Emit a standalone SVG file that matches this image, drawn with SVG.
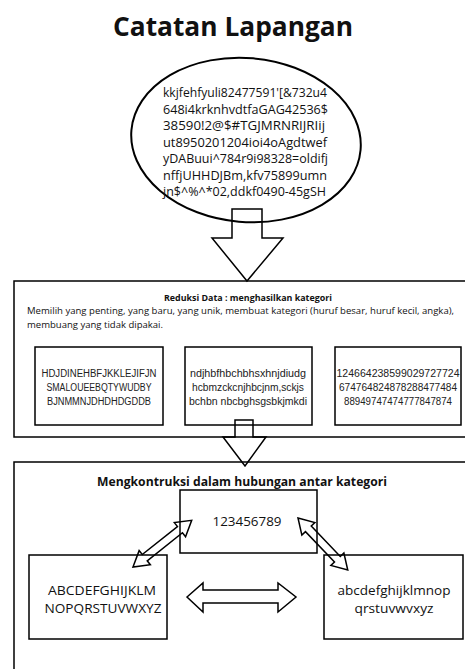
<svg xmlns="http://www.w3.org/2000/svg" width="465" height="669" viewBox="0 0 465 669">
<style>
.box{fill:none;stroke:#000;stroke-width:1.5}
.arr{fill:none;stroke:#000;stroke-width:1.5;stroke-linejoin:miter}
.f{font-family:"Open Sans","Noto Sans",sans-serif;fill:#111}
.c{text-anchor:middle}
.title{font-size:26px;font-weight:bold}
.el{font-size:12.5px}
.h{font-size:9.5px;font-weight:bold}
.p{font-size:9.5px}
.sb{font-size:10px;font-family:"Liberation Sans",Arial,sans-serif;fill:#222}
.bh{font-size:12.5px;font-weight:bold}
.bt{font-size:12.5px}
</style>
<rect width="465" height="669" fill="#fff"/>
<text class="f c title" x="233" y="36" textLength="240" lengthAdjust="spacingAndGlyphs">Catatan Lapangan</text>

<g id="node-catatan">
<ellipse cx="246" cy="140" rx="115" ry="82" transform="rotate(5 246 140)" fill="none" stroke="#000" stroke-width="2"/>
<g class="f el">
<text x="163" y="97" textLength="164" lengthAdjust="spacingAndGlyphs">kkjfehfyuli82477591'[&amp;732u4</text>
<text x="163" y="113.5" textLength="165" lengthAdjust="spacingAndGlyphs">648i4krknhvdtfaGAG42536$</text>
<text x="163" y="130" textLength="162" lengthAdjust="spacingAndGlyphs">38590!2@$#TGJMRNRIJRIij</text>
<text x="163" y="146.5" textLength="164" lengthAdjust="spacingAndGlyphs">ut8950201204ioi4oAgdtwef</text>
<text x="163" y="163" textLength="165" lengthAdjust="spacingAndGlyphs">yDABuui^784r9i98328=oldifj</text>
<text x="163" y="179.5" textLength="164" lengthAdjust="spacingAndGlyphs">nffjUHHDJBm,kfv75899umn</text>
<text x="163" y="196" textLength="163" lengthAdjust="spacingAndGlyphs">jn$^%^*02,ddkf0490-45gSH</text>
</g>
</g>

<g id="node-reduksi">
<rect class="box" x="14" y="281" width="460" height="156"/>
<text class="f c h" x="248" y="301" textLength="168" lengthAdjust="spacingAndGlyphs">Reduksi Data : menghasilkan kategori</text>
<text class="f p" x="27" y="314" textLength="427" lengthAdjust="spacingAndGlyphs">Memilih yang penting, yang baru, yang unik, membuat kategori (huruf besar, huruf kecil, angka),</text>
<text class="f p" x="27" y="328" textLength="136" lengthAdjust="spacingAndGlyphs">membuang yang tidak dipakai.</text>
</g>

<g id="node-upper">
<rect class="box" x="35" y="347" width="128" height="78"/>
<text class="sb c" x="99" y="377" textLength="115" lengthAdjust="spacingAndGlyphs">HDJDINEHBFJKKLEJIFJN</text>
<text class="sb c" x="99" y="391" textLength="105" lengthAdjust="spacingAndGlyphs">SMALOUEEBQTYWUDBY</text>
<text class="sb c" x="99" y="405" textLength="104" lengthAdjust="spacingAndGlyphs">BJNMMNJDHDHDGDDB</text>
</g>
<g id="node-lower">
<rect class="box" x="185" y="347" width="127" height="78"/>
<text class="sb c" x="248" y="377" textLength="116" lengthAdjust="spacingAndGlyphs">ndjhbfhbchbhsxhnjdiudg</text>
<text class="sb c" x="248" y="391" textLength="112" lengthAdjust="spacingAndGlyphs">hcbmzckcnjhbcjnm,sckjs</text>
<text class="sb c" x="248" y="405" textLength="118" lengthAdjust="spacingAndGlyphs">bchbn nbcbghsgsbkjmkdi</text>
</g>
<g id="node-digits">
<rect class="box" x="335" y="347" width="126" height="78"/>
<text class="sb c" x="398" y="377" textLength="123" lengthAdjust="spacingAndGlyphs">124664238599029727724</text>
<text class="sb c" x="398" y="391" textLength="118" lengthAdjust="spacingAndGlyphs">674764824878288477484</text>
<text class="sb c" x="398" y="405" textLength="108" lengthAdjust="spacingAndGlyphs">88949747474777847874</text>
</g>

<g id="node-konstruksi">
<rect class="box" x="14" y="462" width="460" height="220"/>
<text class="f c bh" x="242" y="486" textLength="290" lengthAdjust="spacingAndGlyphs">Mengkontruksi dalam hubungan antar kategori</text>
</g>
<g id="node-angka">
<rect class="box" x="180" y="490" width="137" height="63"/>
<text class="f c bt" x="247" y="526" textLength="69" lengthAdjust="spacingAndGlyphs">123456789</text>
</g>
<g id="node-besar">
<rect class="box" x="29" y="555" width="138" height="84"/>
<text class="f c bt" x="102" y="594.5" textLength="108" lengthAdjust="spacingAndGlyphs">ABCDEFGHIJKLM</text>
<text class="f c bt" x="103" y="612.5" textLength="117" lengthAdjust="spacingAndGlyphs">NOPQRSTUVWXYZ</text>
</g>
<g id="node-kecil">
<rect class="box" x="324" y="555" width="139" height="84"/>
<text class="f c bt" x="394" y="594.5" textLength="113" lengthAdjust="spacingAndGlyphs">abcdefghijklmnop</text>
<text class="f c bt" x="394" y="612.5" textLength="79" lengthAdjust="spacingAndGlyphs">qrstuvwvxyz</text>
</g>

<g id="connectors">
<polygon class="arr" points="232,209 262,209 262,238 283,238 247,281 212,238 232,238"/>
<polygon class="arr" points="235,420 253,420 253,437 266,437 245,466 223,437 235,437"/>
<polygon class="arr" points="187,597 203,583 203,590 278,590 278,583 296,597 278,612 278,603 203,603 203,612"/>
<polygon class="arr" transform="translate(133,567) rotate(-38.5)" points="0,0 15,-9 15,-4 60,-4 60,-9 75,0 60,9 60,4 15,4 15,9"/>
<polygon class="arr" transform="translate(298,518) rotate(46.3)" points="0,0 15,-9 15,-4 57,-4 57,-9 72,0 57,9 57,4 15,4 15,9"/>
</g>
</svg>
